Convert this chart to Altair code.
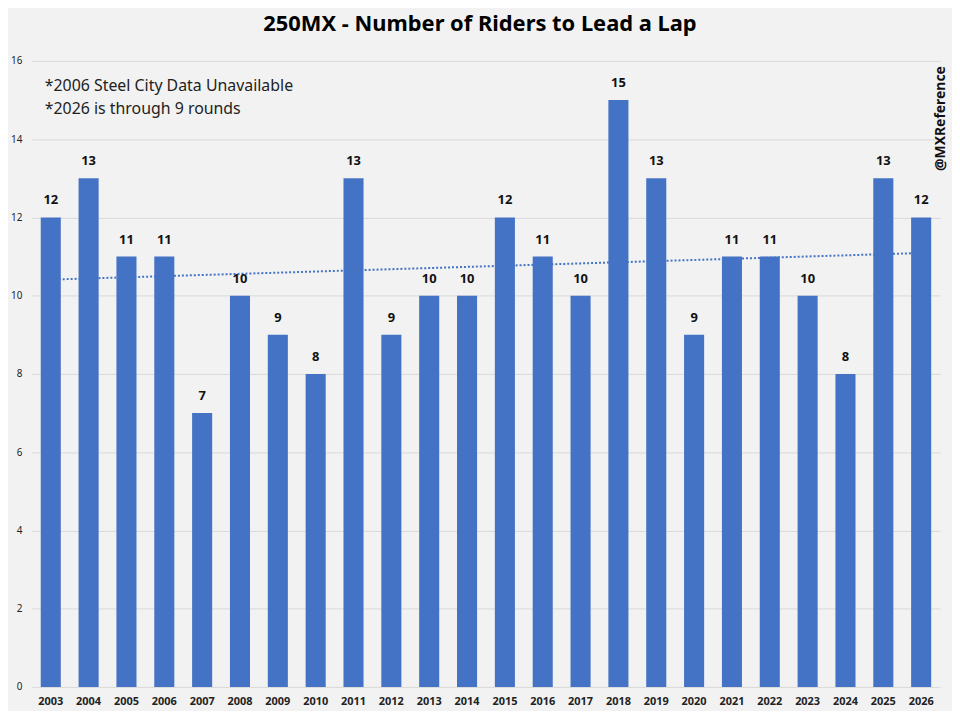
import altair as alt
import pandas as pd

years = [2003, 2004, 2005, 2006, 2007, 2008, 2009, 2010, 2011, 2012, 2013, 2014,
         2015, 2016, 2017, 2018, 2019, 2020, 2021, 2022, 2023, 2024, 2025, 2026]
riders = [12, 13, 11, 11, 7, 10, 9, 8, 13, 9, 10, 10,
          12, 11, 10, 15, 13, 9, 11, 11, 10, 8, 13, 12]
notes = ["*2006 Steel City Data Unavailable", "*2026 is through 9 rounds"]
handle = "@MXReference"

df = pd.DataFrame({"year": years, "riders": riders})

blue = "#4472C4"
font = "Noto Sans"

x = alt.X("year:O", title=None,
          scale=alt.Scale(paddingInner=0.47, paddingOuter=0.235),
          axis=alt.Axis(labelAngle=0, labelFontWeight="bold", labelFontSize=11,
                        labelColor="#222222", labelPadding=9, ticks=False,
                        domain=False, grid=False))
y = alt.Y("riders:Q", title=None,
          scale=alt.Scale(domain=[0, 16]),
          axis=alt.Axis(values=[0, 2, 4, 6, 8, 10, 12, 14, 16], ticks=False,
                        domain=False, gridColor="#d9d9d9", labelFontSize=10,
                        labelColor="#222222", labelPadding=10))

base = alt.Chart(df)

# dotted linear trendline, drawn behind the bars
trend = base.transform_regression("year", "riders").mark_line(
    color=blue, strokeWidth=2, strokeDash=[2, 2]
).encode(x=x, y=y)

bars = base.mark_bar(color=blue).encode(x=x, y=y)

labels = base.mark_text(baseline="bottom", dy=-10, fontWeight="bold",
                        fontSize=13, font=font, color="#111111").encode(
    x=x, y=y, text="riders:Q"
)

note_text = alt.Chart(pd.DataFrame({"t": ["\n".join(notes)]})).mark_text(
    align="left", baseline="middle", fontSize=16, font=font, color="#222222",
    lineBreak="\n", lineHeight=23
).encode(x=alt.value(13), y=alt.value(25), text="t:N")

handle_text = alt.Chart(pd.DataFrame({"t": [handle]})).mark_text(
    angle=270, fontWeight="bold", fontSize=14, font=font, color="#111111",
    baseline="middle", align="center"
).encode(x=alt.value(915), y=alt.value(58), text="t:N")

chart = alt.layer(trend, bars, labels, note_text, handle_text).properties(
    width=914,
    height=630,
    title=alt.TitleParams(
        "250MX - Number of Riders to Lead a Lap",
        fontSize=22, font=font, fontWeight="bold", color="#000000",
        anchor="middle", frame="group", dx=-6, offset=20,
    ),
    background="#f2f2f2",
    padding={"left": 24, "top": 51, "right": 12, "bottom": 22},
    autosize=alt.AutoSizeParams(type="none"),
).configure_view(stroke=None).configure_axis(labelFont=font)

chart.save("out.html", embed_options={"renderer": "svg", "actions": False})
